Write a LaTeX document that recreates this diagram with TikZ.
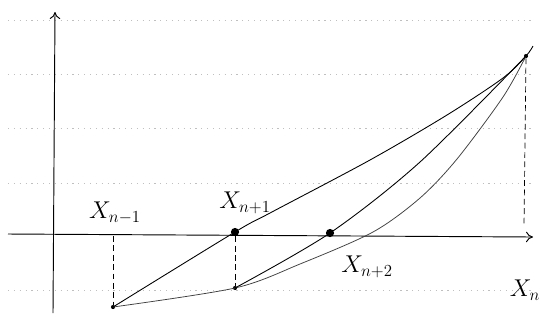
\documentclass[tikz,border=0pt]{standalone}
\usepackage{amsmath}
\usepackage{tikz}
\usetikzlibrary{arrows,arrows.meta,positioning,calc}

\begin{document}
\begin{tikzpicture}[x=0.03cm, y=-0.03cm,
    axis/.style={-{To[length=6pt, width=9pt]}, line width=0.8pt},
    secant/.style={line width=0.75pt},
    func/.style={line width=0.65pt, black!75},
    guide/.style={line width=0.6pt, dash pattern=on 5pt off 3pt},
    ruling/.style={black!25, line width=0.5pt, dash pattern=on 1pt off 4pt},
    root/.style={circle, fill, inner sep=0pt, minimum size=7pt},
    pt/.style={circle, fill, inner sep=0pt, minimum size=3.5pt},
    lbl/.style={font=\huge}
]
    \useasboundingbox (0,0) rectangle (541,323);

    % notebook ruling
    \foreach \y in {20,74,128,183,290}
        \draw[ruling] (8,\y) -- (535,\y);

    % axes
    \coordinate (xstart) at (8,234);
    \coordinate (xend) at (533,237);
    \coordinate (ystart) at (53,313);
    \coordinate (yend) at (55,12);
    \draw[axis] (xstart) -- (xend);
    \draw[axis] (ystart) -- (yend);

    % points on the curve and roots on the axis
    \node[pt] (pA) at (113,307) {};
    \node[pt] (pB) at (235,288) {};
    \node[pt] (pC) at (526,56) {};
    \node[root] (r1) at (235,232) {};
    \node[root] (r2) at (330,233) {};
    \coordinate (fA) at (113,236);
    \coordinate (fC) at (524,226);

    % the function
    \draw[func] plot[smooth, tension=0.5] coordinates {(pA) (pB) (300,264) (373,232) (420,198) (457,159) (503,97) (pC)};

    % secants
    \draw[secant] plot[smooth, tension=0.5] coordinates {(pA) (r1) (270,213) (370,160) (447,115) (503,78) (pC) (533,46)};
    \draw[secant] plot[smooth, tension=0.5] coordinates {(pB) (r2) (420,162) (pC)};

    % guides down to the axis
    \draw[guide] (fA) -- (pA);
    \draw[guide] (r1) -- (pB);
    \draw[guide] (pC) -- (fC);

    % labels
    \node[lbl] (lA) at (115,213) {$X_{n-1}$};
    \node[lbl] (lB) at (245,203) {$X_{n+1}$};
    \node[lbl] (lD) at (367,267) {$X_{n+2}$};
    \node[lbl] (lC) at (525,290) {$X_n$};
\end{tikzpicture}
\end{document}
